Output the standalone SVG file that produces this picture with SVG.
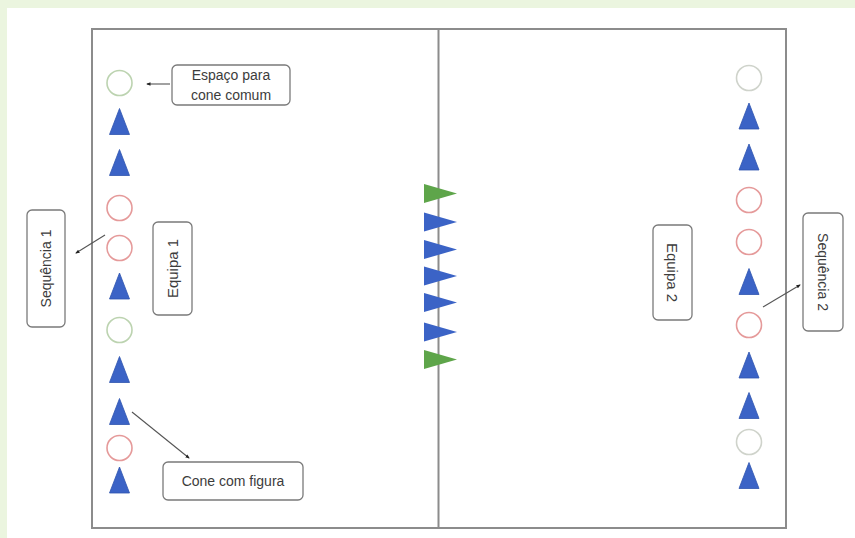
<svg xmlns="http://www.w3.org/2000/svg" width="855" height="538" viewBox="0 0 855 538">
  <style>
    .field { fill: none; stroke: #8c8c8c; stroke-width: 2; }
    .gc { fill: none; stroke: #bcd3b0; stroke-width: 1.6; }
    .gr { fill: none; stroke: #cfd3cb; stroke-width: 1.6; }
    .rc { fill: none; stroke: #e59a9a; stroke-width: 1.6; }
    .box { fill: #ffffff; stroke: #7a7a7a; stroke-width: 1.3; }
    .lbl { font-family: "Liberation Sans", Arial, sans-serif; font-size: 14px; fill: #3c3c3c; text-anchor: middle; dominant-baseline: central; }
    .big { font-size: 15px; }
    .conn { stroke: #555555; stroke-width: 1.1; fill: none; marker-end: url(#dot); }
  </style>
  <defs>
    <path id="cone" d="M0,-13 L10,13 L-10,13 Z" fill="#3b63c6" stroke="#2f54ae" stroke-width="0.8"/>
    <path id="flagB" d="M0,-9.5 L33,0 L0,9.5 Z" fill="#3b63c6"/>
    <path id="flagG" d="M0,-9.5 L33,0 L0,9.5 Z" fill="#5ea54a"/>
    <marker id="dot" viewBox="0 0 10 10" refX="8" refY="5" markerWidth="4" markerHeight="4" orient="auto" markerUnits="strokeWidth">
      <path d="M0,1 L10,5 L0,9 Z" fill="#222222"/>
    </marker>
  </defs>

  <rect x="0" y="0" width="855" height="538" fill="#ebf5df"/>
  <rect x="7" y="8" width="848" height="530" fill="#ffffff"/>

  <g id="field">
    <rect class="field" x="92" y="29" width="694" height="499"/>
    <line class="field" x1="438.5" y1="29" x2="438.5" y2="528"/>
  </g>

  <g id="sequencia1-cones">
    <circle class="gc" cx="119.5" cy="83" r="12.5"/>
    <use href="#cone" x="119.5" y="121.5"/>
    <use href="#cone" x="119.5" y="162.5"/>
    <circle class="rc" cx="119.5" cy="208" r="12.5"/>
    <circle class="rc" cx="119.5" cy="248" r="12.5"/>
    <use href="#cone" x="119.5" y="286"/>
    <circle class="gc" cx="119.5" cy="330" r="12.5"/>
    <use href="#cone" x="119.5" y="369.5"/>
    <use href="#cone" x="119.5" y="411.5"/>
    <circle class="rc" cx="119.5" cy="448" r="12.5"/>
    <use href="#cone" x="119.5" y="480"/>
  </g>

  <g id="sequencia2-cones">
    <circle class="gr" cx="749" cy="78" r="12.5"/>
    <use href="#cone" x="749" y="116"/>
    <use href="#cone" x="749" y="157"/>
    <circle class="rc" cx="749" cy="200" r="12.5"/>
    <circle class="rc" cx="749" cy="242" r="12.5"/>
    <use href="#cone" x="749" y="281.5"/>
    <circle class="rc" cx="749" cy="325" r="12.5"/>
    <use href="#cone" x="749" y="365"/>
    <use href="#cone" x="749" y="405.5"/>
    <circle class="gr" cx="749" cy="442" r="12.5"/>
    <use href="#cone" x="749" y="475.5"/>
  </g>

  <g id="centre-flags">
    <use href="#flagG" x="424" y="193.5"/>
    <use href="#flagB" x="424" y="222"/>
    <use href="#flagB" x="424" y="249.5"/>
    <use href="#flagB" x="424" y="276"/>
    <use href="#flagB" x="424" y="302.5"/>
    <use href="#flagB" x="424" y="332"/>
    <use href="#flagG" x="424" y="359.5"/>
  </g>

  <g id="espaco-label">
    <rect class="box" x="172" y="65" width="118" height="40" rx="5"/>
    <text class="lbl" x="231" y="75">Espaço para</text>
    <text class="lbl" x="231" y="95">cone comum</text>
  </g>

  <g id="cone-figura-label">
    <rect class="box" x="163" y="462" width="140" height="38" rx="5"/>
    <text class="lbl" x="233" y="481">Cone com figura</text>
  </g>

  <g id="sequencia1-label">
    <rect class="box" x="27" y="210" width="38" height="117" rx="5"/>
    <text class="lbl" transform="translate(46,268.5) rotate(-90)">Sequência 1</text>
  </g>

  <g id="equipa1-label">
    <rect class="box" x="153" y="222" width="39" height="93" rx="5"/>
    <text class="lbl big" transform="translate(172.5,268.5) rotate(-90)">Equipa 1</text>
  </g>

  <g id="equipa2-label">
    <rect class="box" x="653" y="225" width="39" height="95" rx="5"/>
    <text class="lbl big" transform="translate(672.5,272.5) rotate(90)">Equipa 2</text>
  </g>

  <g id="sequencia2-label">
    <rect class="box" x="803" y="213" width="40" height="118" rx="5"/>
    <text class="lbl" transform="translate(823,272) rotate(90)">Sequência 2</text>
  </g>

  <g id="connectors">
    <line class="conn" x1="170" y1="84" x2="147" y2="84"/>
    <line class="conn" x1="105" y1="235" x2="76" y2="253"/>
    <line class="conn" x1="132" y1="412" x2="189" y2="458"/>
    <line class="conn" x1="763" y1="307" x2="800" y2="285"/>
  </g>
</svg>
